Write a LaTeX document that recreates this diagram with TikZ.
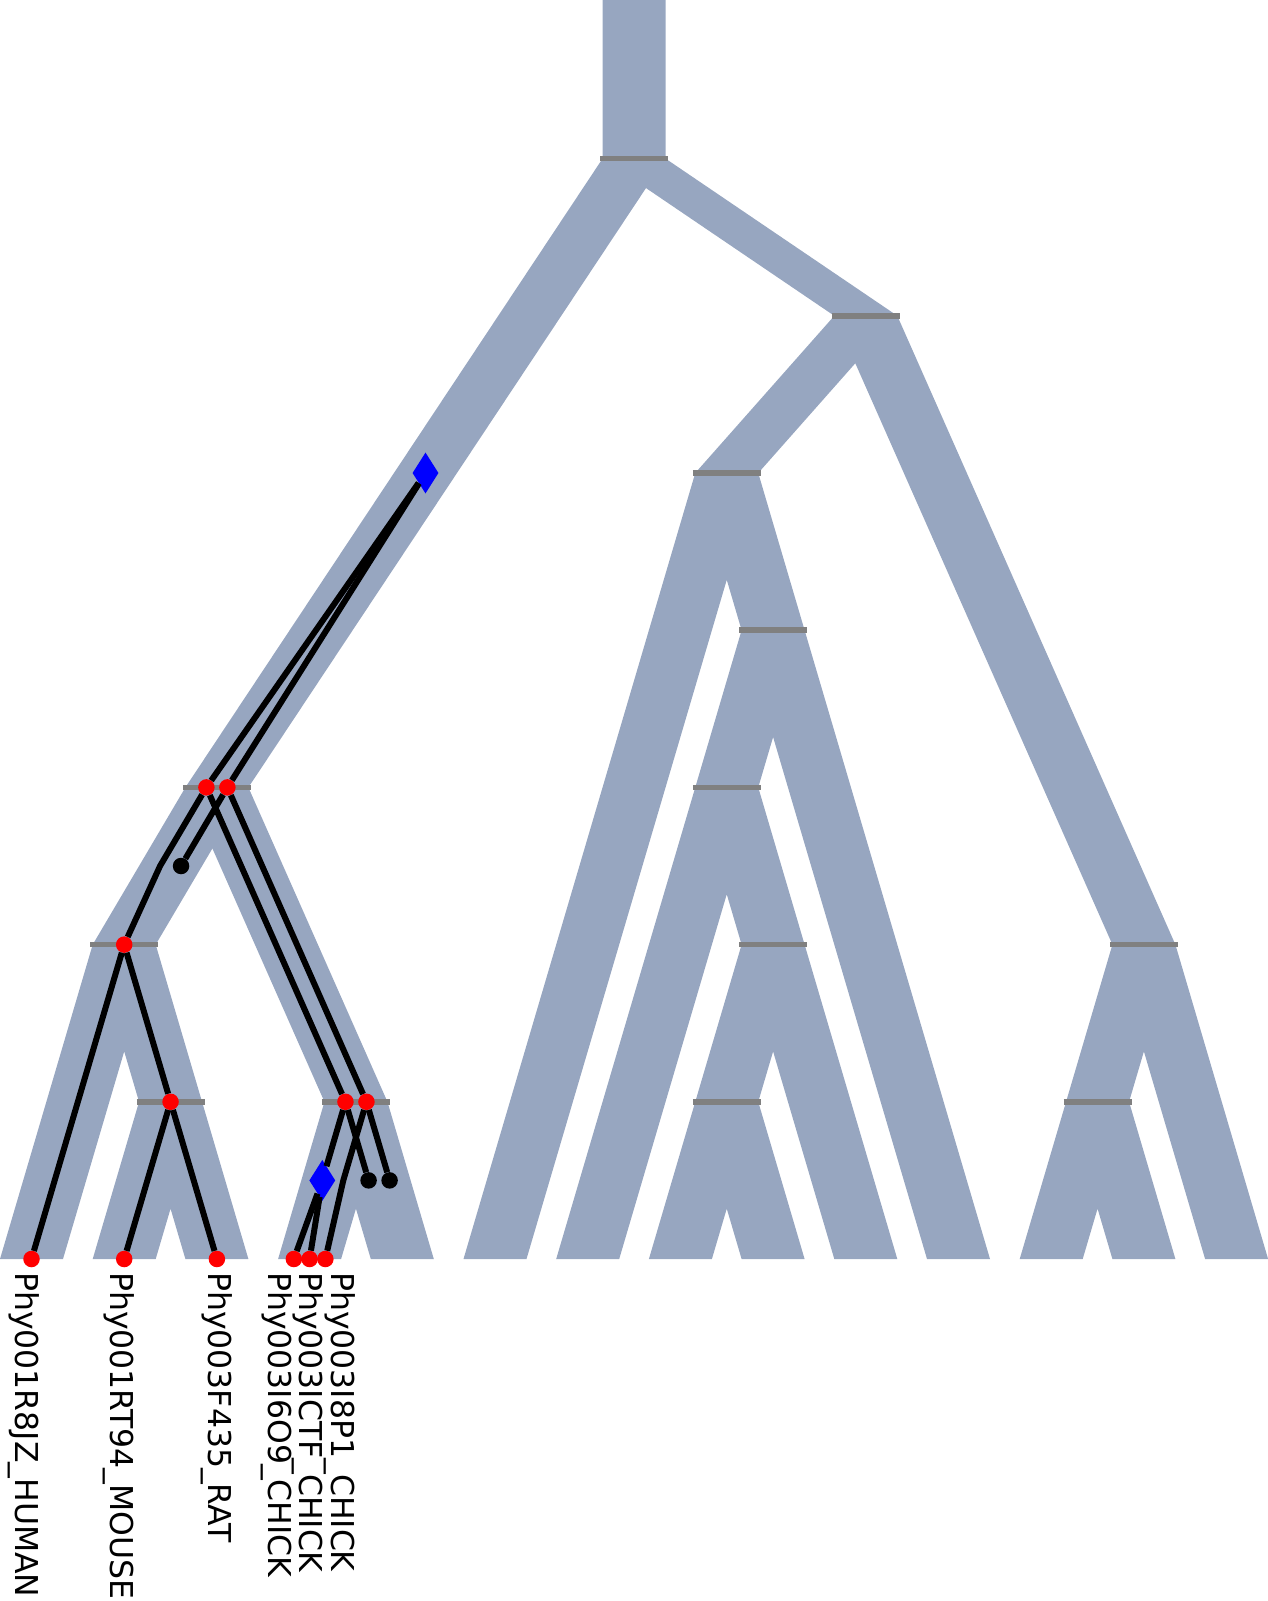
\documentclass[tikz,border=0pt]{standalone}
\usepackage{fontspec}
\newfontfamily\leaffont{DejaVu Sans}
\usetikzlibrary{shapes.geometric}
\definecolor{tubeblue}{RGB}{151,166,192}
\definecolor{bargray}{RGB}{128,128,128}

\begin{document}
\begin{tikzpicture}[x=1pt,y=-1pt,
	tube/.style={fill=tubeblue, to path={([xshift=-31.5pt]\tikztostart) -- ([xshift=31.5pt]\tikztostart) -- ([xshift=31.5pt]\tikztotarget) -- ([xshift=-31.5pt]\tikztotarget) -- cycle}},
	spbar/.style={draw=bargray, line width=5.5pt},
	gene/.style={line width=6pt, line join=round},
	spec/.style={circle, fill=red, inner sep=0pt, minimum size=16.5pt},
	loss/.style={circle, fill=black, inner sep=0pt, minimum size=16.5pt},
	dupl/.style={diamond, fill=blue, inner sep=0pt, aspect=0.63, minimum width=26pt, minimum height=41pt},
	leaf label/.style={rotate=-90, anchor=base west, inner sep=0pt, font=\leaffont\fontsize{31.5pt}{31.5pt}\selectfont}]

	\useasboundingbox (0,0) rectangle (1268,1601);

	%species tree nodes
	\coordinate (top) at (634.05,0);
	\coordinate (root) at (634.05,158.6);
	\coordinate (L) at (216.9,787.4);
	\coordinate (LL) at (124.2,944.6);
	\coordinate (LLR) at (170.55,1101.8);
	\coordinate (LR) at (355.95,1101.8);
	\coordinate (R) at (865.8,315.8);
	\coordinate (RL) at (726.75,473);
	\coordinate (RLR) at (773.1,630.2);
	\coordinate (RLRL) at (726.75,787.4);
	\coordinate (RLRLR) at (773.1,944.6);
	\coordinate (RLRLRL) at (726.75,1101.8);
	\coordinate (RR) at (1143.9,944.6);
	\coordinate (RRL) at (1097.55,1101.8);

	%species tree leaves
	\coordinate (s0) at (31.5,1259);
	\coordinate (s1) at (124.2,1259);
	\coordinate (s2) at (216.9,1259);
	\coordinate (s3) at (309.6,1259);
	\coordinate (s4) at (402.3,1259);
	\coordinate (s5) at (495,1259);
	\coordinate (s6) at (587.7,1259);
	\coordinate (s7) at (680.4,1259);
	\coordinate (s8) at (773.1,1259);
	\coordinate (s9) at (865.8,1259);
	\coordinate (s10) at (958.5,1259);
	\coordinate (s11) at (1051.2,1259);
	\coordinate (s12) at (1143.9,1259);
	\coordinate (s13) at (1236.6,1259);

	%species tree tubes
	\path[tube] (top) to (root)
		(root) to (L) (root) to (R)
		(L) to (LL) (L) to (LR)
		(LL) to (s0) (LL) to (LLR)
		(LLR) to (s1) (LLR) to (s2)
		(LR) to (s3) (LR) to (s4)
		(R) to (RL) (R) to (RR)
		(RL) to (s5) (RL) to (RLR)
		(RLR) to (RLRL) (RLR) to (s10)
		(RLRL) to (s6) (RLRL) to (RLRLR)
		(RLRLR) to (RLRLRL) (RLRLR) to (s9)
		(RLRLRL) to (s7) (RLRLRL) to (s8)
		(RR) to (RRL) (RR) to (s13)
		(RRL) to (s11) (RRL) to (s12);

	%speciation bars
	\draw[spbar] ([xshift=-34pt]root) -- ([xshift=34pt]root)
		([xshift=-34pt]L) -- ([xshift=34pt]L)
		([xshift=-34pt]LL) -- ([xshift=34pt]LL)
		([xshift=-34pt]LLR) -- ([xshift=34pt]LLR)
		([xshift=-34pt]LR) -- ([xshift=34pt]LR)
		([xshift=-34pt]R) -- ([xshift=34pt]R)
		([xshift=-34pt]RL) -- ([xshift=34pt]RL)
		([xshift=-34pt]RLR) -- ([xshift=34pt]RLR)
		([xshift=-34pt]RLRL) -- ([xshift=34pt]RLRL)
		([xshift=-34pt]RLRLR) -- ([xshift=34pt]RLRLR)
		([xshift=-34pt]RLRLRL) -- ([xshift=34pt]RLRLRL)
		([xshift=-34pt]RR) -- ([xshift=34pt]RR)
		([xshift=-34pt]RRL) -- ([xshift=34pt]RRL);

	%gene tree nodes
	\node[dupl] (dupA) at (425.5,473) {};
	\node[spec] (spA) at (206.4,787.4) {};
	\node[spec] (spB) at (227.4,787.4) {};
	\coordinate (bendA) at (160.05,866);
	\node[loss] (lossA) at (181.05,866) {};
	\node[spec] (spLL) at (124.2,944.6) {};
	\node[spec] (spLLR) at (170.55,1101.8) {};
	\node[spec] (spC) at (345.45,1101.8) {};
	\node[spec] (spD) at (366.45,1101.8) {};
	\node[dupl] (dupB) at (322.3,1180.4) {};
	\coordinate (bendB) at (343.3,1180.4);
	\node[loss] (lossB) at (368.6,1180.4) {};
	\node[loss] (lossC) at (389.6,1180.4) {};

	%gene tree leaves
	\node[spec] (g0) at (31.5,1259) {};
	\node[spec] (g1) at (124.2,1259) {};
	\node[spec] (g2) at (216.9,1259) {};
	\node[spec] (g3) at (293.85,1259) {};
	\node[spec] (g4) at (309.6,1259) {};
	\node[spec] (g5) at (325.35,1259) {};

	%gene tree edges
	\path[gene]
		(dupA) edge (spA)
		(dupA) edge (spB)
		(spA) edge (spC)
		(spB) edge (lossA)
		(spB) edge (spD)
		(spLL) edge (g0)
		(spLL) edge (spLLR)
		(spLLR) edge (g1)
		(spLLR) edge (g2)
		(spC) edge (dupB)
		(spC) edge (lossB)
		(spD) edge (lossC)
		(dupB) edge (g3)
		(dupB) edge (g4);
	\draw[gene] (spA) -- (bendA) -- (spLL);
	\draw[gene] (spD) -- (bendB) -- (g5);

	%leaf labels
	\node[leaf label] (labHuman) at (15,1272) {Phy001R8JZ\_HUMAN};
	\node[leaf label] (labMouse) at (110,1272) {Phy001RT94\_MOUSE};
	\node[leaf label] (labRat) at (208.5,1272) {Phy003F435\_RAT};
	\node[leaf label] (labChickA) at (268.3,1272) {Phy003I6O9\_CHICK};
	\node[leaf label] (labChickB) at (299.3,1272) {Phy003ICTF\_CHICK};
	\node[leaf label] (labChickC) at (331.7,1272) {Phy003I8P1\_CHICK};

\end{tikzpicture}
\end{document}
